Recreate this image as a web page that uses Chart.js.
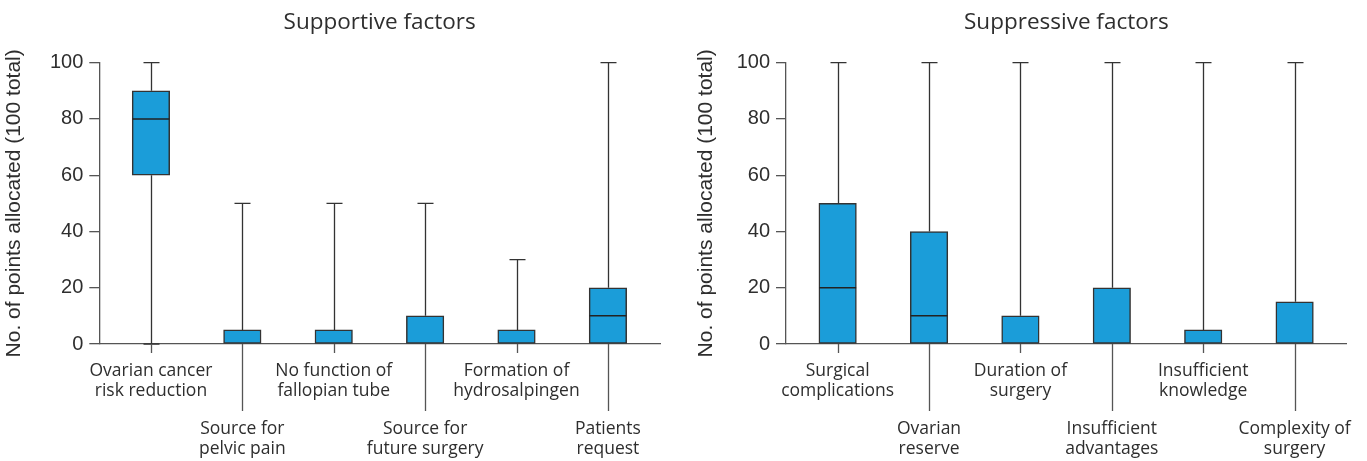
<!DOCTYPE html>
<html><head><meta charset="utf-8">
<script src="https://cdn.jsdelivr.net/npm/chart.js@4"></script>
<style>
html,body{margin:0;padding:0;background:#fff;}
#wrap{position:relative;width:1367px;height:461px;overflow:hidden;background:#fff;}
.panel{position:absolute;top:0;height:461px;}
canvas{display:block;}
</style></head><body>
<div id="wrap">
<div class="panel" style="left:0;width:683px"><canvas id="c1" width="683" height="461"></canvas></div>
<div class="panel" style="left:683px;width:684px"><canvas id="c2" width="684" height="461"></canvas></div>
</div>
<script>
// ---- data ----
const supportiveCategories = [['Ovarian cancer','risk reduction'],['Source for','pelvic pain'],['No function of','fallopian tube'],['Source for','future surgery'],['Formation of','hydrosalpingen'],['Patients','request']];
const supportiveMin    = [0, 0, 0, 0, 0, 0];
const supportiveQ1     = [60, 0, 0, 0, 0, 0];
const supportiveMedian = [80, 0, 0, 0, 0, 10];
const supportiveQ3     = [90, 5, 5, 10, 5, 20];
const supportiveMax    = [100, 50, 50, 50, 30, 100];

const suppressiveCategories = [['Surgical','complications'],['Ovarian','reserve'],['Duration of','surgery'],['Insufficient','advantages'],['Insufficient','knowledge'],['Complexity of','surgery']];
const suppressiveMin    = [0, 0, 0, 0, 0, 0];
const suppressiveQ1     = [0, 0, 0, 0, 0, 0];
const suppressiveMedian = [20, 10, 0, 0, 0, 0];
const suppressiveQ3     = [50, 40, 10, 20, 5, 15];
const suppressiveMax    = [100, 100, 100, 100, 100, 100];

const yTickValues = [0, 20, 40, 60, 80, 100];
const chartTitles = ['Supportive factors', 'Suppressive factors'];
const yAxisTitle = 'No. of points allocated (100 total)';

// ---- styles ----
const BOX_FILL = '#1b9dd9';
const LINE = '#333333';
const AXIS = '#555555';
const TEXT = '#2e2e2e';
const LABEL_FONT = '17.5px "Open Sans", "Noto Sans", sans-serif';
const TITLE_FONT = '22.5px "Open Sans", "Noto Sans", sans-serif';
const YTITLE_FONT = '21px "Liberation Sans", Arial, sans-serif';

function makeChart(id, cats, mins, q1, med, q3, maxs, title, axisX, padRight, yTitleX) {
  const plugin = {
    id: 'boxparts_' + id,
    beforeDatasetsDraw(chart) {
      const ctx = chart.ctx, xs = chart.scales.x, ys = chart.scales.y;
      ctx.save();
      ctx.strokeStyle = LINE; ctx.lineWidth = 1.3;
      cats.forEach((c, i) => {
        const cx = Math.round(xs.getPixelForValue(i)) + 0.5;
        const yMax = ys.getPixelForValue(maxs[i]);
        const yQ3 = ys.getPixelForValue(q3[i]);
        const yQ1 = ys.getPixelForValue(q1[i]);
        const yMin = ys.getPixelForValue(mins[i]);
        ctx.beginPath();
        if (maxs[i] > q3[i]) {
          ctx.moveTo(cx, yMax); ctx.lineTo(cx, yQ3);
          ctx.moveTo(cx - 8, yMax); ctx.lineTo(cx + 8, yMax);
        }
        if (mins[i] < q1[i]) {
          ctx.moveTo(cx, yQ1); ctx.lineTo(cx, yMin);
          ctx.moveTo(cx - 8, yMin); ctx.lineTo(cx + 8, yMin);
        }
        ctx.stroke();
      });
      ctx.restore();
    },
    afterDatasetsDraw(chart) {
      const ctx = chart.ctx, xs = chart.scales.x, ys = chart.scales.y;
      ctx.save();
      ctx.strokeStyle = '#222'; ctx.lineWidth = 1.5;
      cats.forEach((c, i) => {
        if (med[i] <= q1[i]) return;
        const cx = xs.getPixelForValue(i);
        const y = ys.getPixelForValue(med[i]);
        ctx.beginPath();
        ctx.moveTo(cx - 18.5, y); ctx.lineTo(cx + 18.5, y);
        ctx.stroke();
      });
      ctx.restore();
    },
    afterDraw(chart) {
      const ctx = chart.ctx, xs = chart.scales.x, ys = chart.scales.y;
      const area = chart.chartArea;
      const bottom = ys.getPixelForValue(0);
      ctx.save();
      // x ticks (alternating lengths)
      ctx.strokeStyle = AXIS; ctx.lineWidth = 1.3;
      cats.forEach((c, i) => {
        const cx = Math.round(xs.getPixelForValue(i)) + 0.5;
        const len = i % 2 === 0 ? 9 : 67;
        ctx.beginPath(); ctx.moveTo(cx, bottom); ctx.lineTo(cx, bottom + len); ctx.stroke();
      });
      // category labels in two staggered rows
      ctx.fillStyle = TEXT; ctx.font = LABEL_FONT;
      ctx.textAlign = 'center'; ctx.textBaseline = 'alphabetic';
      cats.forEach((lines, i) => {
        const cx = xs.getPixelForValue(i);
        const base = bottom + (i % 2 === 0 ? 32 : 90);
        lines.forEach((t, k) => ctx.fillText(t, cx, base + k * 20));
      });
      // chart title
      ctx.font = TITLE_FONT;
      ctx.fillText(title, (area.left + area.right) / 2, 28.5);
      // y axis title
      ctx.font = YTITLE_FONT;
      ctx.translate(yTitleX, (area.top + area.bottom) / 2);
      ctx.rotate(-Math.PI / 2);
      ctx.fillText(yAxisTitle, 0, 0);
      ctx.restore();
    }
  };

  return new Chart(document.getElementById(id), {
    type: 'bar',
    data: {
      datasets: [{
        data: cats.map((c, i) => ({ x: i, y: [q1[i], q3[i]] })),
        backgroundColor: BOX_FILL,
        borderColor: LINE,
        borderWidth: 1.5,
        borderSkipped: false,
        barThickness: 37.5
      }]
    },
    options: {
      responsive: false,
      animation: false,
      events: [],
      layout: { padding: { left: 0, right: padRight, top: 62.7, bottom: 0 } },
      plugins: { legend: { display: false }, tooltip: { enabled: false }, title: { display: false } },
      scales: {
        x: {
          type: 'linear', min: -0.565, max: 5.57, offset: false,
          afterBuildTicks: s => { s.ticks = cats.map((c, i) => ({ value: i })); },
          ticks: { display: false },
          grid: { display: false, offset: false },
          border: { display: true, color: AXIS, width: 1.3 },
          afterFit: s => { s.height = 117; }
        },
        y: {
          min: 0, max: 100,
          afterBuildTicks: s => { s.ticks = yTickValues.map(v => ({ value: v })); },
          ticks: { font: { family: '"Liberation Sans", Arial, sans-serif', size: 20 }, color: TEXT, padding: 6 },
          grid: { drawOnChartArea: false, tickLength: 10, color: AXIS, lineWidth: 1.3 },
          border: { display: true, color: AXIS, width: 1.3 },
          afterFit: s => { s.width = axisX; }
        }
      }
    },
    plugins: [plugin]
  });
}

makeChart('c1', supportiveCategories, supportiveMin, supportiveQ1, supportiveMedian, supportiveQ3, supportiveMax,
  chartTitles[0], 99.3, 23, 19.5);
makeChart('c2', suppressiveCategories, suppressiveMin, suppressiveQ1, suppressiveMedian, suppressiveQ3, suppressiveMax,
  chartTitles[1], 103, 20.3, 29);
</script>
</body></html>
